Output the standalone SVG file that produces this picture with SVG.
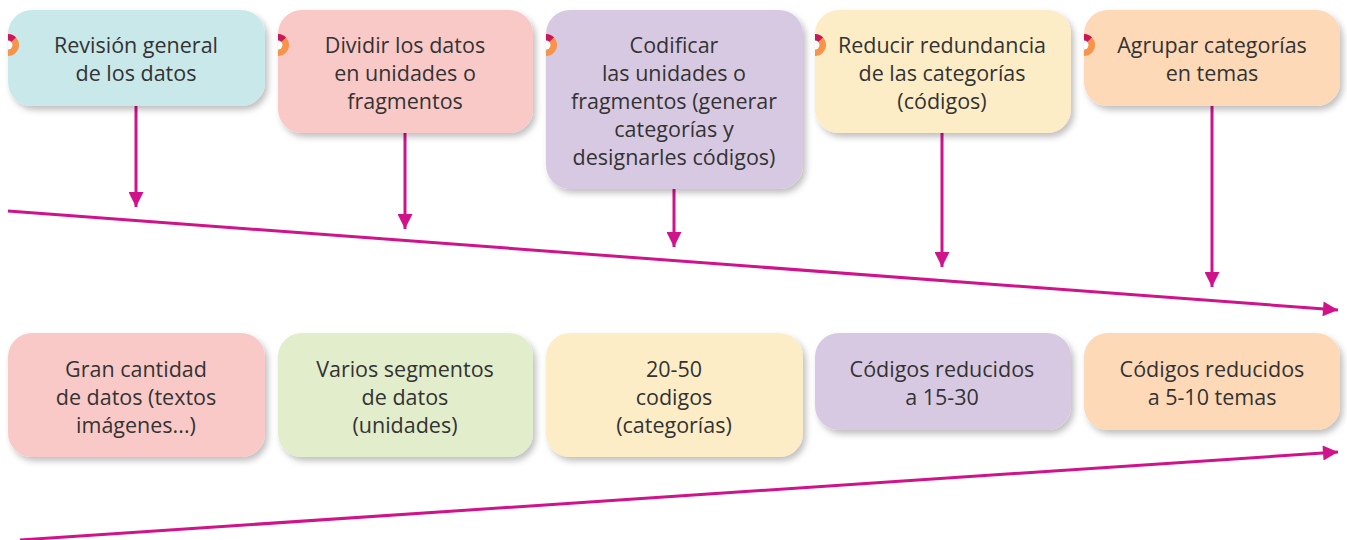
<svg xmlns="http://www.w3.org/2000/svg" width="1347" height="540" viewBox="0 0 1347 540">
<defs>
<style>
.t{font-family:"Open Sans",Lato,sans-serif;font-size:21.5px;fill:#333;text-anchor:middle}
.box{filter:url(#sh)}
.c{stroke:#d0138a;stroke-width:3;fill:none}
</style>
<filter id="sh" x="-10%" y="-10%" width="125%" height="130%"><feDropShadow dx="3" dy="4" stdDeviation="3" flood-color="#000" flood-opacity="0.25"/></filter>
<marker id="ah" viewBox="0 0 10 10" refX="10" refY="5" markerWidth="5.5" markerHeight="5" orient="auto" markerUnits="strokeWidth"><path d="M0,0 L10,5 L0,10 z" fill="#d0138a"/></marker>
<clipPath id="half"><rect x="0" y="-15" width="15" height="30"/></clipPath>
<g id="ico" clip-path="url(#half)"><circle cx="0" cy="0" r="11" fill="#f7944a"/><path d="M0,0 L0,-11 A11,11 0 0 1 8,-7.5 z" fill="#c8175a"/><circle cx="0" cy="0" r="4.5" fill="#fff"/></g>
</defs>
<g id="connectors">
<line class="c" x1="136" y1="106" x2="136" y2="207" marker-end="url(#ah)"/>
<line class="c" x1="405" y1="133" x2="405" y2="229" marker-end="url(#ah)"/>
<line class="c" x1="674" y1="189" x2="674" y2="247" marker-end="url(#ah)"/>
<line class="c" x1="942" y1="133" x2="942" y2="267" marker-end="url(#ah)"/>
<line class="c" x1="1212" y1="106" x2="1212" y2="287" marker-end="url(#ah)"/>
<line class="c" x1="8" y1="211" x2="1338" y2="310" marker-end="url(#ah)"/>
<line class="c" x1="20" y1="540" x2="1338" y2="452" marker-end="url(#ah)"/>
</g>
<g id="n1"><rect class="box" x="8" y="10" width="257" height="96" rx="24" fill="#c9e8ea"/><use href="#ico" x="8" y="45"/><text class="t" x="136" y="53">Revisión general</text><text class="t" x="136" y="81">de los datos</text></g>
<g id="n2"><rect class="box" x="278" y="10" width="255" height="123" rx="24" fill="#f9c9c8"/><use href="#ico" x="278" y="45"/><text class="t" x="405" y="53">Dividir los datos</text><text class="t" x="405" y="81">en unidades o</text><text class="t" x="405" y="109">fragmentos</text></g>
<g id="n3"><rect class="box" x="546" y="10" width="257" height="179" rx="24" fill="#d8c9e3"/><use href="#ico" x="546" y="45"/><text class="t" x="674" y="53">Codificar</text><text class="t" x="674" y="81">las unidades o</text><text class="t" x="674" y="109">fragmentos (generar</text><text class="t" x="674" y="137">categorías y</text><text class="t" x="674" y="165">designarles códigos)</text></g>
<g id="n4"><rect class="box" x="815" y="10" width="256" height="123" rx="24" fill="#fdedc7"/><use href="#ico" x="815" y="45"/><text class="t" x="942" y="53">Reducir redundancia</text><text class="t" x="942" y="81">de las categorías</text><text class="t" x="942" y="109">(códigos)</text></g>
<g id="n5"><rect class="box" x="1084" y="10" width="256" height="96" rx="24" fill="#fdd9b8"/><use href="#ico" x="1084" y="45"/><text class="t" x="1212" y="53">Agrupar categorías</text><text class="t" x="1212" y="81">en temas</text></g>
<g id="b1"><rect class="box" x="8" y="333" width="257" height="124" rx="24" fill="#f9c9c8"/><text class="t" x="136" y="377">Gran cantidad</text><text class="t" x="136" y="405">de datos (textos</text><text class="t" x="136" y="433">imágenes...)</text></g>
<g id="b2"><rect class="box" x="278" y="333" width="255" height="124" rx="24" fill="#e2edcc"/><text class="t" x="405" y="377">Varios segmentos</text><text class="t" x="405" y="405">de datos</text><text class="t" x="405" y="433">(unidades)</text></g>
<g id="b3"><rect class="box" x="546" y="333" width="257" height="124" rx="24" fill="#fdedc7"/><text class="t" x="674" y="377">20-50</text><text class="t" x="674" y="405">codigos</text><text class="t" x="674" y="433">(categorías)</text></g>
<g id="b4"><rect class="box" x="815" y="333" width="256" height="97" rx="24" fill="#d8c9e3"/><text class="t" x="942" y="377">Códigos reducidos</text><text class="t" x="942" y="405">a 15-30</text></g>
<g id="b5"><rect class="box" x="1084" y="333" width="256" height="97" rx="24" fill="#fdd9b8"/><text class="t" x="1212" y="377">Códigos reducidos</text><text class="t" x="1212" y="405">a 5-10 temas</text></g>
</svg>
